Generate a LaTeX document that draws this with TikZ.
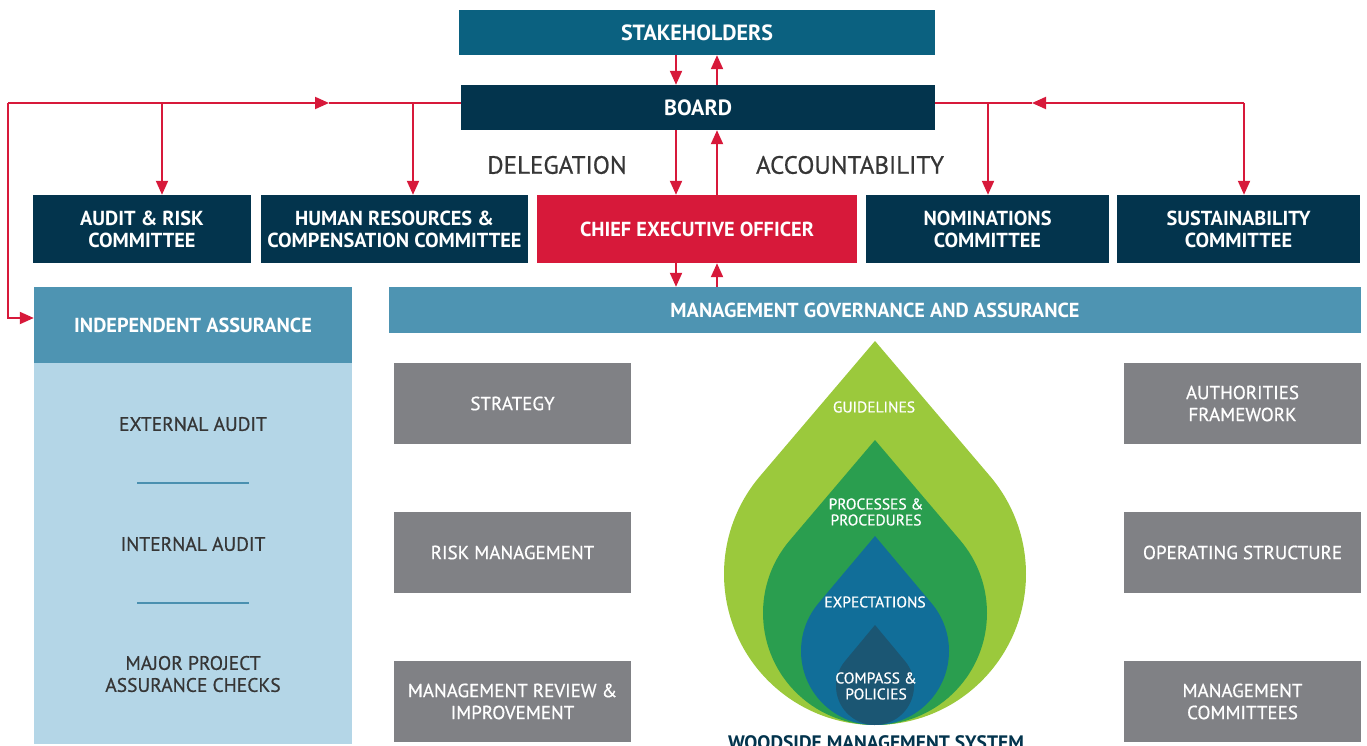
\documentclass[tikz,border=0pt]{standalone}
\usepackage{fontspec}
\setmainfont{PT Sans}
\newfontfamily\medfont{PT Sans}[FakeBold=0.6]
\usetikzlibrary{arrows.meta}
\definecolor{stakec}{HTML}{0B6180}
\definecolor{navy}{HTML}{03344D}
\definecolor{ceored}{HTML}{D7193A}
\definecolor{lred}{HTML}{D7193A}
\definecolor{mgac}{HTML}{4E94B2}
\definecolor{lblue}{HTML}{B4D6E7}
\definecolor{gbx}{HTML}{808185}
\definecolor{dtext}{HTML}{363636}
\definecolor{sepc}{HTML}{4A90B0}
\definecolor{dropa}{HTML}{9BC93C}
\definecolor{dropb}{HTML}{2A9E4F}
\definecolor{dropc}{HTML}{116E99}
\definecolor{dropd}{HTML}{1B5673}
\newcommand\wdrop[5]{%
  \pgfmathsetmacro\dphi{acos(#4/(#3-#2))}%
  \fill[#5] (#1,#2) -- ([shift={(270-\dphi:#4)}]#1,#3) arc[start angle=270-\dphi, end angle=-90+\dphi, radius=#4] -- cycle;}
\begin{document}
\begin{tikzpicture}[x=1pt,y=-1pt,
  box/.style={rectangle, inner sep=0pt, text=white, align=center, font=\bfseries\fontsize{20.3}{22}\selectfont},
  bigbox/.style={box, font=\bfseries\fontsize{22}{24}\selectfont},
  gbox/.style={rectangle, fill=gbx, inner sep=0pt, text=white, align=center, font=\medfont\fontsize{19}{22}\selectfont, minimum width=237pt, minimum height=81pt},
  iatext/.style={text=dtext, align=center, font=\medfont\fontsize{19.5}{22}\selectfont},
  droptext/.style={text=white, align=center, font=\medfont\fontsize{15.5}{16}\selectfont},
  rl/.style={draw=lred, line width=2pt},
  arr/.style={rl, -{Triangle[length=14pt,width=12pt]}},
  sepline/.style={draw=sepc, line width=1.6pt}]
\useasboundingbox (0,0) rectangle (1367,746);
\clip (0,0) rectangle (1367,746);
% main boxes
\node[bigbox, fill=stakec, minimum width=476pt, minimum height=45pt] (stake) at (697,32.5) {STAKEHOLDERS};
\node[bigbox, fill=navy, minimum width=474pt, minimum height=45pt] (board) at (698,107.5) {BOARD};
\node[box, fill=ceored, minimum width=320pt, minimum height=68pt] (ceo) at (697,229) {CHIEF EXECUTIVE OFFICER};
\node[box, fill=navy, minimum width=218pt, minimum height=68pt] (audit) at (142,229) {AUDIT \& RISK\\COMMITTEE};
\node[box, fill=navy, minimum width=267pt, minimum height=68pt] (hr) at (394.5,229) {HUMAN RESOURCES \&\\COMPENSATION COMMITTEE};
\node[box, fill=navy, minimum width=243pt, minimum height=68pt] (nom) at (987.5,229) {NOMINATIONS\\COMMITTEE};
\node[box, fill=navy, minimum width=243pt, minimum height=68pt] (sust) at (1238.5,229) {SUSTAINABILITY\\COMMITTEE};
\node[box, fill=mgac, minimum width=972pt, minimum height=46pt] (mga) at (875,310) {MANAGEMENT GOVERNANCE AND ASSURANCE};
\node[box, fill=lblue, minimum width=318pt, minimum height=381pt] (iab) at (193,553.5) {};
\node[box, fill=mgac, minimum width=318pt, minimum height=76pt] (iah) at (193,325) {INDEPENDENT ASSURANCE};
% delegation / accountability
\node[text=dtext, font=\medfont\fontsize{25}{28}\selectfont] (deleg) at (557,165) {DELEGATION};
\node[text=dtext, font=\medfont\fontsize{25}{28}\selectfont] (accnt) at (850,165) {ACCOUNTABILITY};
% independent assurance contents
\node[iatext] (ext) at (193,424) {EXTERNAL AUDIT};
\node[iatext] (int) at (193,544) {INTERNAL AUDIT};
\node[iatext] (maj) at (193,674) {MAJOR PROJECT\\ASSURANCE CHECKS};
\coordinate (s1a) at (137,483); \coordinate (s1b) at (249,483);
\coordinate (s2a) at (137,603); \coordinate (s2b) at (249,603);
\draw[sepline] (s1a) -- (s1b);
\draw[sepline] (s2a) -- (s2b);
% grey boxes
\node[gbox] (strat) at (512.5,403.5) {STRATEGY};
\node[gbox] (risk) at (512.5,552.5) {RISK MANAGEMENT};
\node[gbox] (review) at (512.5,701.5) {MANAGEMENT REVIEW \&\\IMPROVEMENT};
\node[gbox] (auth) at (1242.5,403.5) {AUTHORITIES\\FRAMEWORK};
\node[gbox] (opst) at (1242.5,552.5) {OPERATING STRUCTURE};
\node[gbox] (mcom) at (1242.5,701.5) {MANAGEMENT\\COMMITTEES};
% drop
\wdrop{875}{341}{574}{151}{dropa}
\wdrop{875}{440}{613}{112}{dropb}
\wdrop{875}{536}{651}{74}{dropc}
\wdrop{875}{625}{686}{39}{dropd}
\node[droptext] (guid) at (874,407) {GUIDELINES};
\node[droptext] (proc) at (876,512) {PROCESSES \&\\PROCEDURES};
\node[droptext] (expe) at (875,602) {EXPECTATIONS};
\node[droptext] (comp) at (876,686) {COMPASS \&\\POLICIES};
\node[anchor=base, text=navy, font=\bfseries\fontsize{19.5}{22}\selectfont] (wms) at (876,749) {WOODSIDE MANAGEMENT SYSTEM};
% vertical arrows
\coordinate (dn) at (676,0);
\coordinate (upx) at (717,0);
\draw[arr] (stake.south -| dn) -- (board.north -| dn);
\draw[arr] (board.north -| upx) -- (stake.south -| upx);
\draw[arr] (board.south -| dn) -- (ceo.north -| dn);
\draw[arr] (ceo.north -| upx) -- (board.south -| upx);
\draw[arr] (ceo.south -| dn) -- (mga.north -| dn);
\draw[arr] (mga.north -| upx) -- (ceo.south -| upx);
% left committee line
\coordinate (lc) at (8,103);
\coordinate (lm) at (329,103);
\coordinate (ba) at (162,103);
\coordinate (bh) at (413,103);
\coordinate (iaa) at (8,318);
\draw[arr] (lc) -- (lm);
\draw[rl] (lm) -- (board.west |- lm);
\draw[arr] (lc) -- (iaa) -- (iah.west |- iaa);
\draw[arr] (ba) -- (audit.north -| ba);
\draw[arr] (bh) -- (hr.north -| bh);
% right committee line
\coordinate (rc) at (1244,103);
\coordinate (rm) at (1032,103);
\coordinate (bn) at (988,103);
\draw[arr] (rc) -- (rm);
\draw[rl] (rm) -- (board.east |- rm);
\draw[arr] (rc) -- (sust.north -| rc);
\draw[arr] (bn) -- (nom.north -| bn);
\end{tikzpicture}
\end{document}
